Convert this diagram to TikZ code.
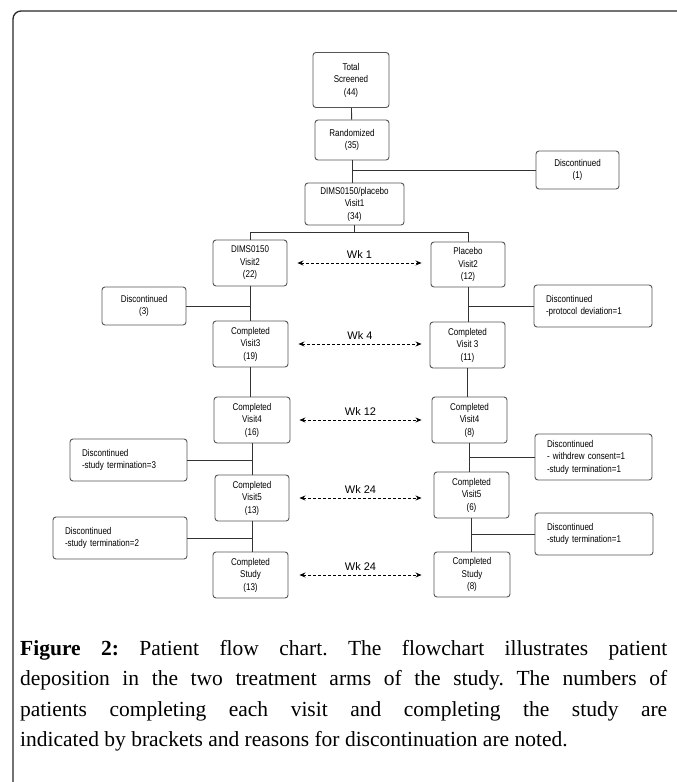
\documentclass[tikz,border=0pt]{standalone}
\usepackage{fontspec}
\setmainfont{Liberation Serif}
\newfontfamily\chartfont[FakeStretch=0.82]{Liberation Sans}
\newfontfamily\weekfont{Liberation Sans}
\usetikzlibrary{arrows.meta,calc}
\definecolor{boxgray}{HTML}{555555}
\definecolor{linegray}{HTML}{333333}
\tikzset{
	patient flow/.style={
		x=1pt,y=-1pt,
		font=\chartfont\fontsize{9.8}{12.5}\selectfont,
		flow line/.style={draw=linegray,line width=0.9pt},
		week arrow/.style={
			line width=0.8pt,
			dash pattern=on 3pt off 2pt,
			{Stealth[length=6pt,width=5pt]}-{Stealth[length=6pt,width=5pt]}
		},
		week label/.style={
			midway,above=4pt,inner sep=0pt,
			font=\weekfont\fontsize{11}{13}\selectfont
		}
	},
	flow box/.style={
		rectangle,
		rounded corners=3pt,
		draw=boxgray,
		line width=0.9pt,
		align=center,
		inner sep=1pt
	},
	stage box/.style 2 args={% width, height
		flow box,
		minimum width=#1,
		minimum height=#2
	},
	reason box/.style 2 args={% text width, height
		flow box,
		align=left,
		inner xsep=12pt,
		text width=#1,
		minimum height=#2
	},
	caption text/.style={
		text width=647pt,
		align=justify,
		inner sep=0pt,
		font=\fontsize{21.5}{30.5}\selectfont,
		execute at begin node={\frenchspacing\hyphenpenalty=10000 \tolerance=10000 \hbadness=10000 }
	}
}

\begin{document}
\begin{tikzpicture}[patient flow]
	\useasboundingbox (0,0) rectangle (677,782);
	\begin{scope}
		\clip (0,0) rectangle (677,782);
		\draw[line width=1.3pt,draw=black!85,rounded corners=8pt] (13,11) rectangle (720,820);
	\end{scope}

	% common trunk
	\node[stage box={76pt}{55pt}] (screened) at (351,80) {Total\\Screened\\(44)};
	\node[stage box={74pt}{40pt}] (randomized) at (352,140) {Randomized\\(35)};
	\node[stage box={83pt}{38pt}] (discA) at (577.5,170) {Discontinued\\(1)};
	\node[stage box={99pt}{42pt}] (visit1) at (354.5,204) {DIMS0150/placebo\\Visit1\\(34)};

	% DIMS0150 arm
	\node[stage box={74pt}{46pt}] (v2l) at (250,263) {DIMS0150\\Visit2\\(22)};
	\node[stage box={84pt}{38pt}] (discB) at (144,306) {Discontinued\\(3)};
	\node[stage box={75pt}{46pt}] (v3l) at (250.5,344) {Completed\\Visit3\\(19)};
	\node[stage box={76pt}{46pt}] (v4l) at (252,420) {Completed\\Visit4\\(16)};
	\node[reason box={93pt}{42pt}] (discD) at (128.5,460) {Discontinued\\-study termination=3};
	\node[stage box={74pt}{46pt}] (v5l) at (252,498) {Completed\\Visit5\\(13)};
	\node[reason box={110pt}{42pt}] (discF) at (120,538) {Discontinued\\-study termination=2};
	\node[stage box={75pt}{46pt}] (studyl) at (250.5,575) {Completed\\Study\\(13)};

	% placebo arm
	\node[stage box={74pt}{45pt}] (v2r) at (468,264.5) {Placebo\\Visit2\\(12)};
	\node[reason box={94pt}{42pt}] (discC) at (593,306) {Discontinued\\-protocol deviation=1};
	\node[stage box={75pt}{46pt}] (v3r) at (467.5,345) {Completed\\Visit 3\\(11)};
	\node[stage box={75pt}{46pt}] (v4r) at (469.5,420) {Completed\\Visit4\\(8)};
	\node[reason box={93pt}{46pt}] (discE) at (593.5,457) {Discontinued\\- withdrew consent=1\\-study termination=1};
	\node[stage box={75pt}{46pt}] (v5r) at (471.5,495) {Completed\\Visit5\\(6)};
	\node[reason box={94pt}{42pt}] (discG) at (594,534) {Discontinued\\-study termination=1};
	\node[stage box={76pt}{45pt}] (studyr) at (472,574.5) {Completed\\Study\\(8)};

	% connectors
	\draw[flow line] (screened) -- (randomized);
	\draw[flow line] (randomized.south) -- (randomized.south |- visit1.north);
	\draw[flow line] (discA.west) -- (discA.west -| randomized.south);
	\draw[flow line] (visit1.south) -- ++(0,7) coordinate (split);
	\draw[flow line] (v2l.north) |- (split) -| (v2r.north);

	\draw[flow line] (v2l.south) -- (v2l.south |- v3l.north);
	\draw[flow line] (discB.east) -- (discB.east -| v2l.south);
	\draw[flow line] (v3l.south) -- (v3l.south |- v4l.north);
	\draw[flow line] (v4l.south) -- (v4l.south |- v5l.north);
	\draw[flow line] (discD.east) -- (discD.east -| v4l.south);
	\draw[flow line] (v5l.south) -- (v5l.south |- studyl.north);
	\draw[flow line] (discF.east) -- (discF.east -| v5l.south);

	\draw[flow line] (v2r.south) -- (v2r.south |- v3r.north);
	\draw[flow line] (discC.west) -- (discC.west -| v2r.south);
	\draw[flow line] (v3r.south) -- (v3r.south |- v4r.north);
	\draw[flow line] (v4r.south) -- (v4r.south |- v5r.north);
	\draw[flow line] (discE.west) -- (discE.west -| v4r.south);
	\draw[flow line] (v5r.south) -- (v5r.south |- studyr.north);
	\draw[flow line] (discG.west) -- (discG.west -| v5r.south);

	% weeks
	\draw[week arrow] ([xshift=10pt]v2l.east) -- ([xshift=-9pt]v2l.east -| v2r.west) node[week label] {Wk 1};
	\draw[week arrow] ([xshift=10pt]v3l.east) -- ([xshift=-8pt]v3l.east -| v3r.west) node[week label] {Wk 4};
	\draw[week arrow] ([xshift=9pt]v4l.east) -- ([xshift=-10pt]v4l.east -| v4r.west) node[week label] {Wk 12};
	\draw[week arrow] ([xshift=10pt]v5l.east) -- ([xshift=-12pt]v5l.east -| v5r.west) node[week label] {Wk 24};
	\draw[week arrow] ([xshift=11pt]studyl.east) -- ([xshift=-12pt]studyl.east -| studyr.west) node[week label] {Wk 24};

	\node[caption text,anchor=base west] (caption) at (20,655) {\textbf{Figure 2:} Patient flow chart. The flowchart illustrates patient\linebreak deposition in the two treatment arms of the study. The numbers of\linebreak patients completing each visit and completing the study are\linebreak indicated by brackets and reasons for discontinuation are noted.};
\end{tikzpicture}
\end{document}
